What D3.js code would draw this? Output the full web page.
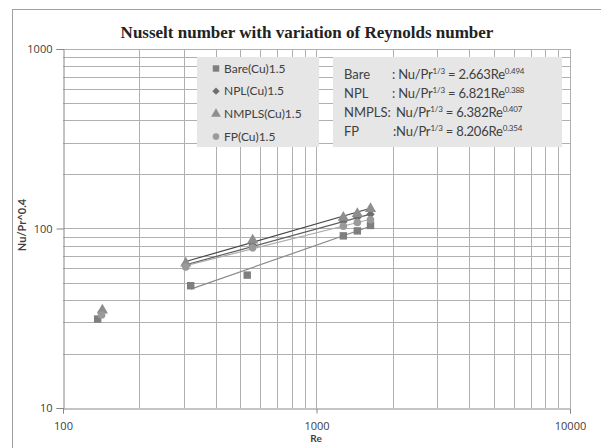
<!DOCTYPE html>
<html>
<head>
<meta charset="utf-8">
<script src="https://cdn.jsdelivr.net/npm/d3@7"></script>
<style>
  body { margin: 0; background: #fff; }
  text { font-family: Lato, "Open Sans", sans-serif; fill: #404040; }
</style>
</head>
<body>
<div id="chart"></div>
<script>
// data
var seriesNames = ["Bare(Cu)1.5", "NPL(Cu)1.5", "NMPLS(Cu)1.5", "FP(Cu)1.5"];
var bareRe = [137, 319, 533, 1276, 1449, 1633];
var bareNu = [31.3, 48, 55, 91, 97, 104];
var nplRe = [142, 305, 560, 1276, 1449, 1633];
var nplNu = [34.3, 62.5, 81, 109, 115, 120];
var nmplsRe = [143, 305, 560, 1276, 1449, 1633];
var nmplsNu = [35, 64, 86, 115, 121, 129];
var fpRe = [142, 305, 560, 1276, 1449, 1633];
var fpNu = [33, 61, 78, 103, 108, 112];
// power-law fits shown in the equation box
var fitLabels = ["Bare", "NPL", "NMPLS:", "FP"];
var fitCoef = [2.663, 6.821, 6.382, 8.206];
var fitExp = [0.494, 0.388, 0.407, 0.354];
var xTicks = [100, 1000, 10000];
var yTicks = [10, 100, 1000];

var width = 601, height = 448;
var svg = d3.select("#chart").append("svg")
  .attr("width", width).attr("height", height);

// outer chart border
svg.append("rect")
  .attr("x", 12.5).attr("y", 9.5)
  .attr("width", 620).attr("height", 460)
  .attr("fill", "none").attr("stroke", "#a0a0a0");

var x = d3.scaleLog().domain([100, 10000]).range([63, 570]);
var y = d3.scaleLog().domain([10, 1000]).range([408, 49]);

// grid lines, every 1..9 of each decade
var gridX = [], gridY = [];
[100, 1000].forEach(function(d) { for (var k = 1; k < 10; k++) gridX.push(d * k); });
gridX.push(10000);
[10, 100].forEach(function(d) { for (var k = 1; k < 10; k++) gridY.push(d * k); });
gridY.push(1000);

svg.append("g").selectAll("line")
  .data(gridX.slice(1))
  .enter().append("line")
  .attr("x1", function(d) { return Math.round(x(d)) + 0.5; })
  .attr("x2", function(d) { return Math.round(x(d)) + 0.5; })
  .attr("y1", y(1000)).attr("y2", y(10))
  .attr("stroke", "#b0b0b0");

svg.append("g").selectAll("line")
  .data(gridY.slice(1))
  .enter().append("line")
  .attr("y1", function(d) { return Math.round(y(d)) + 0.5; })
  .attr("y2", function(d) { return Math.round(y(d)) + 0.5; })
  .attr("x1", x(100)).attr("x2", x(10000))
  .attr("stroke", "#b0b0b0");

// axes
var xAxis = d3.axisBottom(x).tickValues(xTicks).tickFormat(d3.format("d")).tickSize(5).tickPadding(9);
var yAxis = d3.axisLeft(y).tickValues(yTicks).tickFormat(d3.format("d")).tickSize(7).tickPadding(4);

var gx = svg.append("g").attr("transform", "translate(0," + (Math.round(y(10)) + 0.5) + ")").call(xAxis);
var gy = svg.append("g").attr("transform", "translate(" + (Math.round(x(100)) + 0.5) + ",0)").call(yAxis);
[gx, gy].forEach(function(g) {
  g.select(".domain").attr("stroke", "#888");
  g.selectAll(".tick line").attr("stroke", "#888");
  g.selectAll(".tick text").style("font-family", "'Open Sans', sans-serif")
    .style("font-size", "11px").style("fill", "#404040");
});

// titles
svg.append("text")
  .attr("x", 307).attr("y", 38)
  .attr("text-anchor", "middle")
  .style("font-family", "'Liberation Serif', serif")
  .style("font-weight", "bold").style("font-size", "17px")
  .style("fill", "#222")
  .text("Nusselt number with variation of Reynolds number");

svg.append("text")
  .attr("x", 316).attr("y", 442)
  .attr("text-anchor", "middle")
  .style("font-weight", "bold").style("font-size", "10px")
  .text("Re");

svg.append("text")
  .attr("transform", "translate(26,225) rotate(-90)")
  .attr("text-anchor", "middle")
  .style("font-weight", "bold").style("font-size", "11px")
  .text("Nu/Pr^0.4");

// trend lines from the power fits, over the fitted range
var fitRange = [[319, 1633], [305, 1633], [305, 1633], [305, 1633]];
var fitColors = ["#8a8a8a", "#5e5e5e", "#474747", "#ababab"];
var line = d3.line()
  .x(function(d) { return x(d[0]); })
  .y(function(d) { return y(d[1]); });
fitCoef.forEach(function(c, i) {
  var pts = fitRange[i].map(function(re) { return [re, c * Math.pow(re, fitExp[i])]; });
  svg.append("path")
    .attr("d", line(pts))
    .attr("fill", "none")
    .attr("stroke", fitColors[i])
    .attr("stroke-width", 1.2);
});

// markers (diamond = square turned 45 degrees)
var series = [
  { re: bareRe, nu: bareNu, sym: d3.symbolSquare, size: 55, rot: 0, color: "#7f7f7f" },
  { re: nplRe, nu: nplNu, sym: d3.symbolSquare, size: 36, rot: 45, color: "#6e6e6e" },
  { re: nmplsRe, nu: nmplsNu, sym: d3.symbolTriangle, size: 55, rot: 0, color: "#8e8e8e" },
  { re: fpRe, nu: fpNu, sym: d3.symbolCircle, size: 45, rot: 0, color: "#9a9a9a" }
];
series.forEach(function(s) {
  svg.append("g").selectAll("path")
    .data(s.re.map(function(r, i) { return [r, s.nu[i]]; }))
    .enter().append("path")
    .attr("transform", function(d) { return "translate(" + x(d[0]) + "," + y(d[1]) + ") rotate(" + s.rot + ")"; })
    .attr("d", d3.symbol().type(s.sym).size(s.size))
    .attr("fill", s.color);
});

// series legend
var lg = svg.append("g");
lg.append("rect")
  .attr("x", 197).attr("y", 57).attr("width", 122).attr("height", 90)
  .attr("fill", "#e6e6e6");
seriesNames.forEach(function(n, i) {
  var yy = 68.5 + i * 22.7;
  lg.append("path")
    .attr("transform", "translate(216," + yy + ") rotate(" + series[i].rot + ")")
    .attr("d", d3.symbol().type(series[i].sym).size(series[i].size * 0.75))
    .attr("fill", series[i].color);
  lg.append("text")
    .attr("x", 224).attr("y", yy + 4)
    .style("font-size", "12px")
    .text(n);
});

// equation box
var eg = svg.append("g");
eg.append("rect")
  .attr("x", 333).attr("y", 57).attr("width", 229).attr("height", 90)
  .attr("fill", "#e6e6e6");
var eqX = [392, 392, 396, 393];
var eqPre = [": Nu/Pr", ": Nu/Pr", "Nu/Pr", ":Nu/Pr"];
fitLabels.forEach(function(n, i) {
  var yy = 79 + i * 19;
  eg.append("text").attr("x", 344).attr("y", yy)
    .style("font-size", "13px").text(n);
  var t = eg.append("text").attr("x", eqX[i]).attr("y", yy)
    .style("font-size", "13px").style("letter-spacing", "-0.2px");
  t.append("tspan").text(eqPre[i]);
  t.append("tspan").attr("dy", -5).style("font-size", "8px").text("1/3");
  t.append("tspan").attr("dy", 5).text(" = " + fitCoef[i].toFixed(3) + "Re");
  t.append("tspan").attr("dy", -5).style("font-size", "8px").text(fitExp[i].toFixed(3));
});
</script>
</body>
</html>
